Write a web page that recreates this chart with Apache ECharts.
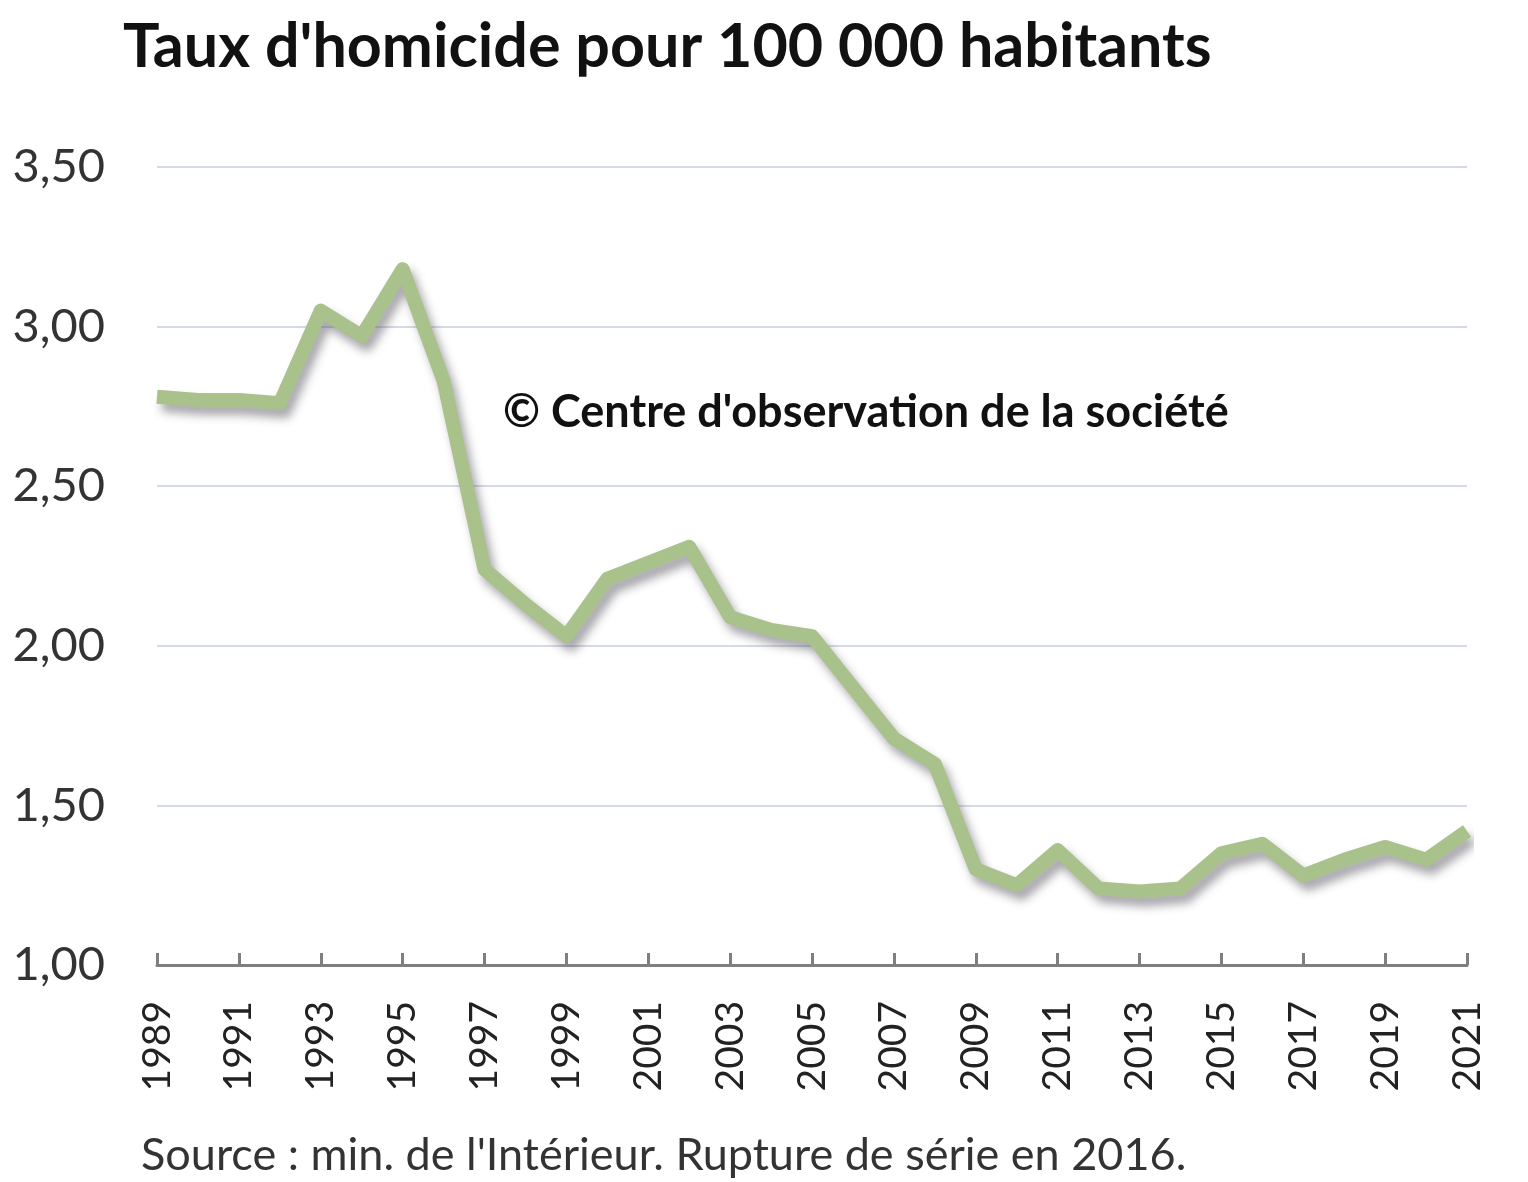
<!DOCTYPE html>
<html>
<head>
<meta charset="utf-8">
<script src="https://cdn.jsdelivr.net/npm/echarts@6/dist/echarts.min.js"></script>
<style>
  html, body { margin: 0; padding: 0; background: #fff; }
  #main { width: 1528px; height: 1182px; }
</style>
</head>
<body>
<div id="main"></div>
<script>
var years = [];
for (var y = 1989; y <= 2021; y++) years.push(String(y));

// taux d'homicide pour 100 000 habitants
var rates = [2.78, 2.77, 2.77, 2.76, 3.05, 2.97, 3.18, 2.83, 2.24, 2.13, 2.03,
             2.21, 2.26, 2.31, 2.09, 2.05, 2.03, 1.87, 1.71, 1.63, 1.30, 1.25,
             1.36, 1.24, 1.23, 1.24, 1.35, 1.38, 1.28, 1.33, 1.37, 1.33, 1.42];

var yTicks = [1.0, 1.5, 2.0, 2.5, 3.0, 3.5];

var chartDom = document.getElementById("main");
var myChart = echarts.init(chartDom);

var option = {
  backgroundColor: "#fff",
  animation: false,
  title: {
    text: "Taux d'homicide pour 100 000 habitants",
    left: 118,
    top: 12,
    textStyle: {
      fontFamily: "Lato",
      fontWeight: "bold",
      fontSize: 61,
      color: "#111",
    },
  },
  graphic: [
    {
      type: "text",
      left: 503,
      top: 390,
      style: {
        text: "© Centre d'observation de la société",
        font: "bold 45px Lato",
        fill: "#111",
      },
    },
    {
      type: "text",
      left: 141,
      top: 1133,
      style: {
        text: "Source : min. de l'Intérieur. Rupture de série en 2016.",
        font: "45px Lato",
        fill: "#333",
      },
    },
  ],
  grid: {
    left: 157,
    right: 61,
    top: 167,
    bottom: 217,
  },
  xAxis: {
    type: "category",
    data: years,
    boundaryGap: false,
    axisLine: { lineStyle: { color: "#7f7f7f", width: 3 } },
    axisTick: {
      inside: true,
      length: 12,
      interval: 1,
      lineStyle: { color: "#7f7f7f", width: 3 },
    },
    axisLabel: {
      interval: 1,
      rotate: 90,
      margin: 36,
      fontFamily: "Lato",
      fontSize: 39,
      color: "#222",
    },
    splitLine: { show: false },
  },
  yAxis: {
    type: "value",
    min: yTicks[0],
    max: yTicks[yTicks.length - 1],
    interval: 0.5,
    axisLine: { show: false },
    axisTick: { show: false },
    axisLabel: {
      margin: 52,
      fontFamily: "Lato",
      fontSize: 47,
      color: "#333",
      formatter: function (v) {
        return v.toFixed(2).replace(".", ",");
      },
    },
    splitLine: { lineStyle: { color: "#d5dbe5", width: 2 } },
  },
  series: [
    {
      name: "Taux d'homicide",
      type: "line",
      data: rates,
      symbol: "none",
      lineStyle: {
        color: "#a9c18b",
        width: 14,
        join: "round",
        shadowColor: "rgba(60, 60, 70, 0.45)",
        shadowBlur: 10,
        shadowOffsetX: 5,
        shadowOffsetY: 8,
      },
    },
  ],
};

myChart.setOption(option);
</script>
</body>
</html>
